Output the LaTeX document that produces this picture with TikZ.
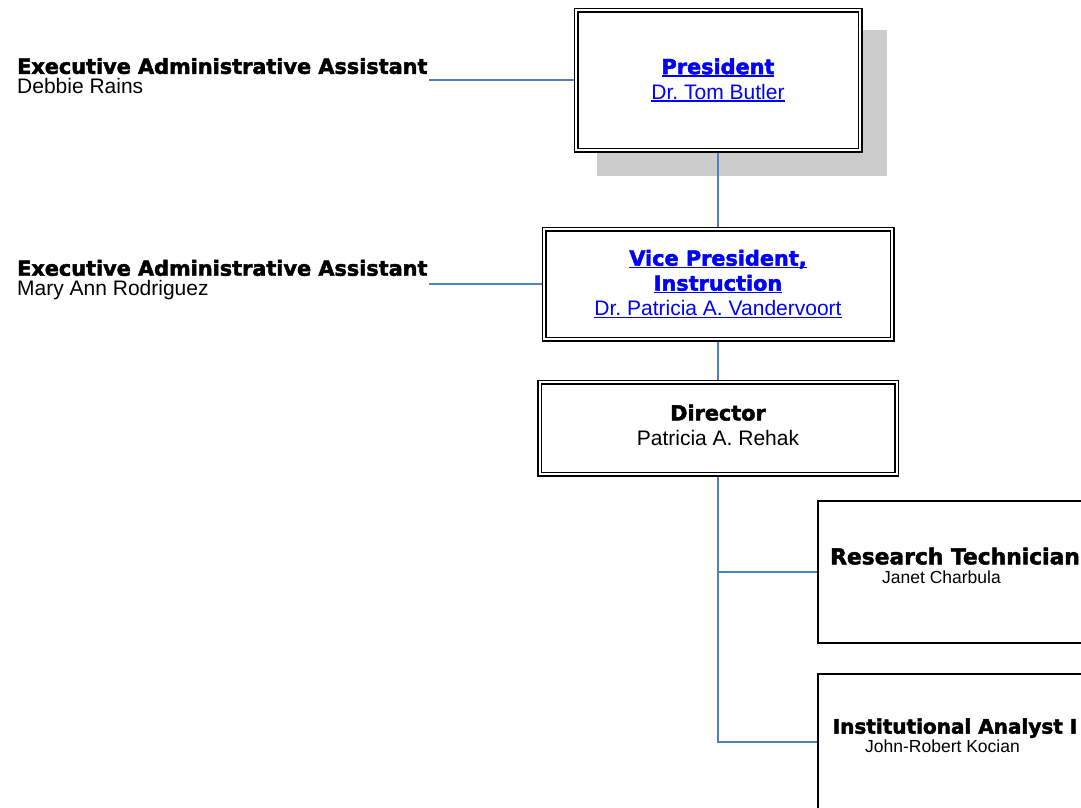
\documentclass[tikz,border=0pt]{standalone}
\usepackage{fontspec}
\setmainfont{Liberation Sans}
\newfontfamily\heavyfont{DejaVu Sans}[UprightFont={* Bold}, UprightFeatures={FakeBold=2.2}]
\usepackage{tikz}
\usetikzlibrary{positioning,backgrounds}
\definecolor{linkblue}{HTML}{0000FF}
\definecolor{linecol}{HTML}{4F81BD}
\definecolor{shadowgray}{HTML}{CCCCCC}
\newcommand{\ttl}[2][20.8]{{\heavyfont\fontsize{#1}{20}\selectfont #2}}
\newcommand{\lnk}[1]{\setbox0\hbox{#1}\rlap{\rule[-2.5pt]{\wd0}{1.3pt}}\box0}
\frenchspacing

\begin{document}
\begin{tikzpicture}[x=1pt,y=-1pt,
        dbox/.style={draw, fill=white, line width=1.5pt, double=white, double distance=2pt,
                     align=center, inner sep=0pt, font=\fontsize{21}{25}\selectfont},
        sbox/.style={draw, fill=white, line width=1.5pt, align=center, inner sep=0pt,
                     font=\fontsize{17.5}{19}\selectfont},
        asst/.style={align=left, inner sep=1pt, anchor=west, font=\fontsize{21}{20}\selectfont},
        link/.style={draw=linecol, line width=2pt}]
        \useasboundingbox (0,0) rectangle (1081,807);
        \clip (0,0) rectangle (1081,807);

        \node[dbox, text=linkblue, minimum width=284pt, minimum height=140pt] (pres) at (718,80)
            {\lnk{\ttl{President}}\\ \lnk{Dr. Tom Butler}};
        \node[dbox, text=linkblue, minimum width=348pt, minimum height=110pt] (vp)   at (718,284)
            {\lnk{\ttl{Vice President,}}\\ \lnk{\ttl{Instruction}}\\ \lnk{Dr. Patricia A. Vandervoort}};
        \node[dbox, minimum width=357pt, minimum height=92pt]                (dir)  at (718,428)
            {\ttl{Director}\\ Patricia A. Rehak\\[-19pt]\mbox{}};
        \node[sbox, minimum width=274pt, minimum height=142pt]               (rt)   at (955,572)
            {\ttl[21.8]{Research Technician}\\ Janet Charbula\kern27pt\\[-6pt]\mbox{}};
        \node[sbox, minimum width=274pt, minimum height=136pt]               (ia)   at (955,742)
            {\ttl[20]{Institutional Analyst I}\\ John-Robert Kocian\kern25pt\\[-6pt]\mbox{}};

        \node[asst] (ea_1) at (16,76)  {\ttl{Executive Administrative Assistant}\\ Debbie Rains};
        \node[asst] (ea_2) at (16,280) {\ttl{Executive Administrative Assistant}\\ Mary Ann Rodriguez};

        \begin{pgfonlayer}{background}
            % shadow behind the president box
            \fill[shadowgray] (597,30) rectangle (887,176);

            \draw[link] (ea_1.east |- pres.west) -- (pres.west);
            \draw[link] (ea_2.east |- vp.west)   -- (vp.west);
            \draw[link] (pres.south) -- (vp.north);
            \draw[link] (vp.south)   -- (dir.north);
            \draw[link] (dir.south)  |- (rt.west);
            \draw[link] (dir.south)  |- (ia.west);
        \end{pgfonlayer}
    \end{tikzpicture}
\end{document}
